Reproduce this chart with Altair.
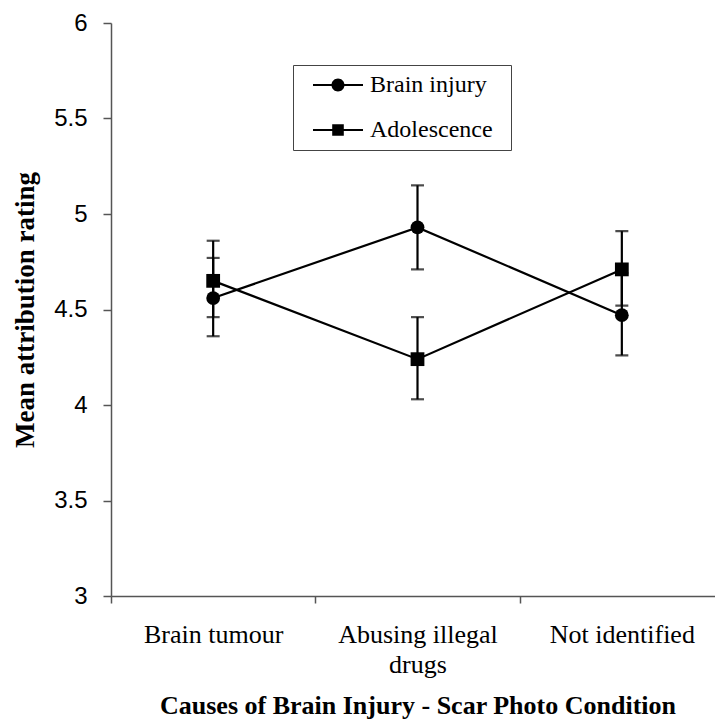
import altair as alt
import pandas as pd

categories = ["Brain tumour", "Abusing illegal drugs", "Not identified"]
series_names = ["Brain injury", "Adolescence"]

brain_mean = [4.56, 4.93, 4.47]
brain_low = [4.36, 4.71, 4.26]
brain_high = [4.77, 5.15, 4.69]

adol_mean = [4.65, 4.24, 4.71]
adol_low = [4.46, 4.03, 4.52]
adol_high = [4.86, 4.46, 4.91]

y_ticks = [3, 3.5, 4, 4.5, 5, 5.5, 6]

rows = []
for i, c in enumerate(categories):
    rows.append({"cause": c, "series": series_names[0], "mean": brain_mean[i],
                 "low": brain_low[i], "high": brain_high[i]})
    rows.append({"cause": c, "series": series_names[1], "mean": adol_mean[i],
                 "low": adol_low[i], "high": adol_high[i]})
df = pd.DataFrame(rows)

SERIF = "Liberation Serif"
SANS = "Liberation Sans"
AXIS_GREY = "#555555"

x_enc = alt.X(
    "cause:N",
    sort=categories,
    scale=alt.Scale(type="band", paddingInner=0, paddingOuter=0, range=[0, 613]),
    axis=alt.Axis(
        title="Causes of Brain Injury - Scar Photo Condition",
        titleFont=SERIF, titleFontSize=26, titleFontWeight="bold", titleColor="black",
        titlePadding=15,
        labelFont=SERIF, labelFontSize=26, labelColor="black", labelAngle=0,
        labelPadding=18, labelLineHeight=30, labelLimit=400,
        labelExpr="datum.label == 'Abusing illegal drugs' ? ['Abusing illegal', 'drugs'] : datum.label",
        tickBand="extent", tickSize=7, tickColor=AXIS_GREY, tickWidth=1.5,
        domainColor=AXIS_GREY, domainWidth=1.5,
    ),
)
y_scale = alt.Scale(domain=[3, 6], nice=False, zero=False)
y_axis = alt.Axis(
    title="Mean attribution rating",
    titleFont=SERIF, titleFontSize=27, titleFontWeight="bold", titleColor="black",
    titlePadding=14,
    values=y_ticks, format=".1~f",
    labelFont=SANS, labelFontSize=24, labelColor="black", labelPadding=16,
    tickSize=8, tickColor=AXIS_GREY, tickWidth=1.5,
    domainColor=AXIS_GREY, domainWidth=1.5,
)

base = alt.Chart(df)

lines = base.mark_line(color="black", strokeWidth=2.2).encode(
    x=x_enc,
    y=alt.Y("mean:Q", scale=y_scale, axis=y_axis),
    detail="series:N",
)

bars = base.mark_rule(color="black", strokeWidth=2.2).encode(
    x=alt.X("cause:N", sort=categories),
    y="low:Q",
    y2="high:Q",
)

caps_low = base.mark_tick(color="black", thickness=2.2, size=13, orient="horizontal").encode(
    x=alt.X("cause:N", sort=categories),
    y="low:Q",
)
caps_high = base.mark_tick(color="black", thickness=2.2, size=13, orient="horizontal").encode(
    x=alt.X("cause:N", sort=categories),
    y="high:Q",
)

points = base.mark_point(filled=True, color="black", opacity=1, size=190).encode(
    x=alt.X("cause:N", sort=categories),
    y="mean:Q",
    shape=alt.Shape("series:N", scale=alt.Scale(domain=series_names, range=["circle", "square"]),
                    legend=None),
)

# legend glyphs: a short filled bar (the line) with the marker on it
circle_path = ("M-2.5,-0.11H2.5V0.11H-2.5Z"
               "M-0.65,0A0.65,0.65,0,1,1,0.65,0A0.65,0.65,0,1,1,-0.65,0Z")
square_path = ("M-2.5,-0.11H2.5V0.11H-2.5Z"
               "M-0.58,-0.58H0.58V0.58H-0.58Z")

legend_layer = base.mark_point(filled=True, color="black", opacity=0).encode(
    x=alt.X("cause:N", sort=categories),
    y="mean:Q",
    shape=alt.Shape(
        "series:N",
        scale=alt.Scale(domain=series_names, range=[circle_path, square_path]),
        legend=alt.Legend(
            title="A", titleOrient="right", titleOpacity=0, titleFontSize=8, titlePadding=4,
            orient="none", legendX=182, legendY=42,
            direction="vertical",
            labelFont=SERIF, labelFontSize=24, labelColor="black",
            labelOffset=20, symbolOffset=25,
            symbolSize=400, symbolFillColor="black", symbolStrokeColor="black",
            symbolOpacity=1,
            padding=8, rowPadding=21,
            strokeColor="#444444", fillColor="white",
        ),
    ),
)

chart = alt.layer(lines, bars, caps_low, caps_high, points, legend_layer).resolve_scale(
    shape="independent"
).properties(
    width=604, height=573,
    autosize=alt.AutoSizeParams(type="none"),
    padding={"left": 111, "top": 23, "right": 0, "bottom": 128},
).configure_view(stroke=None).configure_axis(grid=False)

chart.save("out.html", embed_options={"renderer": "svg", "actions": False})
